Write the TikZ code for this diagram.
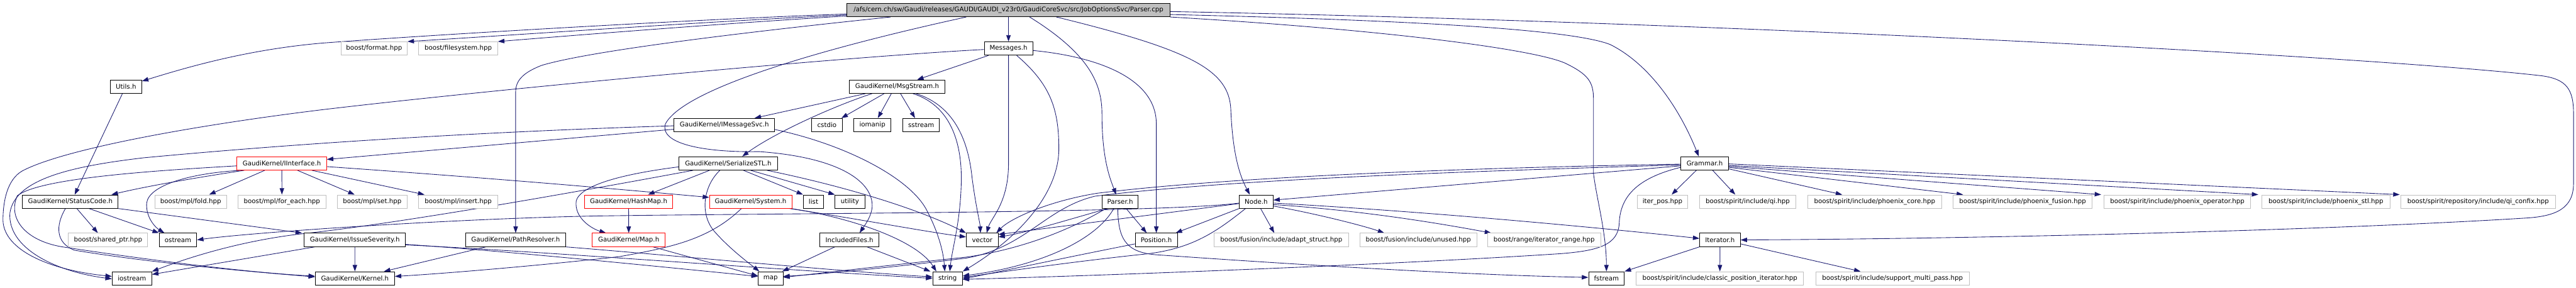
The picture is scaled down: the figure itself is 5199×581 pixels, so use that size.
\documentclass[tikz,border=0pt]{standalone}
\usepackage{fontspec}
\setmainfont{DejaVu Sans}
\usetikzlibrary{arrows.meta}
\definecolor{edgeblue}{HTML}{191970}
\definecolor{rootgray}{HTML}{BFBFBF}
\definecolor{extgray}{HTML}{BFBFBF}
\definecolor{redline}{HTML}{FF0000}
\pgfdeclarelayer{back}
\pgfdeclarelayer{bg}
\pgfsetlayers{back,bg,main}
\begin{document}
\begin{tikzpicture}[x=1pt,y=-1pt,
  box/.style={draw=black, line width=1.1pt, rectangle, minimum height=27pt, inner sep=0pt, fill=white, text=black, font=\fontsize{13pt}{15pt}\selectfont},
  rootbox/.style={box, fill=rootgray},
  redbox/.style={box, draw=redline},
  extbox/.style={box, draw=extgray},
  edge/.style={draw=edgeblue, line width=1.1pt, -{Triangle[length=13pt,width=9pt]}}]
\begin{pgfonlayer}{back}
\fill[white] (0,0) rectangle (5199,581);
\end{pgfonlayer}
\useasboundingbox (0,0) rectangle (5199,581);

% row 0
\node[rootbox,minimum width=651.6pt] (root) at (2035.4,20.3) {/afs/cern.ch/sw/Gaudi/releases/GAUDI/GAUDI\_v23r0/GaudiCoreSvc/src/JobOptionsSvc/Parser.cpp};
% row 1
\node[extbox,minimum width=133.9pt] (format) at (755.05,97.9) {boost/format.hpp};
\node[extbox,minimum width=159.2pt] (filesystem) at (924.8,97.9) {boost/filesystem.hpp};
\node[box,minimum width=97.8pt] (messages) at (2035.4,97.9) {Messages.h};
% row 2
\node[box,minimum width=63.4pt] (utils) at (254.3,174.9) {Utils.h};
\node[box,minimum width=192pt] (msgstream) at (1810.5,174.9) {GaudiKernel/MsgStream.h};
% row 3
\node[box,minimum width=202.7pt] (imsgsvc) at (1461.85,252.4) {GaudiKernel/IMessageSvc.h};
\node[box,minimum width=61.3pt] (cstdio) at (1668.95,252.4) {cstdio};
\node[box,minimum width=75.1pt] (iomanip) at (1760.75,252.4) {iomanip};
\node[box,minimum width=73.8pt] (sstream) at (1859.2,252.4) {sstream};
% row 4
\node[redbox,minimum width=180.7pt] (iinterface) at (568.75,329.8) {GaudiKernel/IInterface.h};
\node[box,minimum width=198.5pt] (serialize) at (1469.75,329.8) {GaudiKernel/SerializeSTL.h};
\node[box,minimum width=95.8pt] (grammar) at (3440.5,329.8) {Grammar.h};
% row 5
\node[box,minimum width=192.8pt] (statuscode) at (142,406.9) {GaudiKernel/StatusCode.h};
\node[extbox,minimum width=144.6pt] (fold) at (384.9,406.9) {boost/mpl/fold.hpp};
\node[extbox,minimum width=177pt] (foreach) at (569,406.9) {boost/mpl/for\_each.hpp};
\node[extbox,minimum width=141.7pt] (mplset) at (751.15,406.9) {boost/mpl/set.hpp};
\node[extbox,minimum width=159.2pt] (mplinsert) at (924.8,406.9) {boost/mpl/insert.hpp};
\node[redbox,minimum width=178.6pt] (hashmap) at (1268.7,406.9) {GaudiKernel/HashMap.h};
\node[redbox,minimum width=166.3pt] (system) at (1514.95,406.9) {GaudiKernel/System.h};
\node[box,minimum width=41pt] (list) at (1641.8,406.9) {list};
\node[box,minimum width=59.7pt] (utility) at (1715.35,406.9) {utility};
\node[box,minimum width=72.6pt] (parserh) at (2260.7,406.9) {Parser.h};
\node[box,minimum width=68pt] (nodeh) at (2535.3,406.9) {Node.h};
\node[extbox,minimum width=102pt] (iterpos) at (3355.3,406.9) {iter\_pos.hpp};
\node[extbox,minimum width=194pt] (qi) at (3527.3,406.9) {boost/spirit/include/qi.hpp};
\node[extbox,minimum width=270.3pt] (phcore) at (3783.55,406.9) {boost/spirit/include/phoenix\_core.hpp};
\node[extbox,minimum width=281pt] (phfusion) at (4082,406.9) {boost/spirit/include/phoenix\_fusion.hpp};
\node[extbox,minimum width=296.4pt] (phop) at (4394.3,406.9) {boost/spirit/include/phoenix\_operator.hpp};
\node[extbox,minimum width=257.9pt] (phstl) at (4694.25,406.9) {boost/spirit/include/phoenix\_stl.hpp};
\node[extbox,minimum width=311.7pt] (confix) at (5001.45,406.9) {boost/spirit/repository/include/qi\_confix.hpp};
% row 6
\node[extbox,minimum width=160.1pt] (sharedptr) at (218.05,484.3) {boost/shared\_ptr.hpp};
\node[box,minimum width=75.8pt] (ostream) at (359.2,484.3) {ostream};
\node[box,minimum width=204.4pt] (issue) at (716.1,484.3) {GaudiKernel/IssueSeverity.h};
\node[box,minimum width=201pt] (pathres) at (1040.7,484.3) {GaudiKernel/PathResolver.h};
\node[redbox,minimum width=146.8pt] (maph) at (1268.9,484.3) {GaudiKernel/Map.h};
\node[box,minimum width=119.8pt] (included) at (1714.3,484.3) {IncludedFiles.h};
\node[box,minimum width=64pt] (vector) at (1982.3,484.3) {vector};
\node[box,minimum width=85pt] (position) at (2333.7,484.3) {Position.h};
\node[extbox,minimum width=271.2pt] (adapt) at (2585.9,484.3) {boost/fusion/include/adapt\_struct.hpp};
\node[extbox,minimum width=236.2pt] (unused) at (2862.4,484.3) {boost/fusion/include/unused.hpp};
\node[extbox,minimum width=228.4pt] (irange) at (3116.3,484.3) {boost/range/iterator\_range.hpp};
\node[box,minimum width=82.1pt] (iterator) at (3471.35,484.3) {Iterator.h};
% row 7
\node[box,minimum width=80pt] (iostream) at (266.3,561.9) {iostream};
\node[box,minimum width=160pt] (kernel) at (716.3,561.9) {GaudiKernel/Kernel.h};
\node[box,minimum width=50.1pt] (map) at (1555.15,561.9) {map};
\node[box,minimum width=60.1pt] (string) at (1912.45,561.9) {string};
\node[box,minimum width=72.1pt] (fstream) at (3242.15,561.9) {fstream};
\node[extbox,minimum width=337.9pt] (classic) at (3471.15,561.9) {boost/spirit/include/classic\_position\_iterator.hpp};
\node[extbox,minimum width=310.1pt] (multipass) at (3819.55,561.9) {boost/spirit/include/support\_multi\_pass.hpp};

\begin{pgfonlayer}{bg}
% ---- root
\draw[edge] ([yshift=-8pt]root.west) .. controls (1450,37) and (900,68) .. (650,87) .. controls (500,100) and (380,135) .. ([yshift=-3pt]utils.north east);
\draw[edge] ([yshift=-10pt]root.west) .. controls (1450,42) and (1050,70) .. (format.north east);
\draw[edge] ([yshift=-12pt]root.west) .. controls (1450,48) and (1150,72) .. (filesystem.north east);
\draw[edge] ([xshift=88pt]root.south west) .. controls (1550,60) and (1200,100) .. (1093,132) .. controls (1060,145) and (1040.7,160) .. (1040.7,185) -- (pathres.north);
\draw[edge] (root.south) -- (messages.north);
\draw[edge] ([xshift=241pt]root.south west) .. controls (1650,100) and (1380,180) .. (1343,250) .. controls (1330,290) and (1420,308) .. (1532,306) .. controls (1700,318) and (1765,370) .. (1760,420) .. controls (1757,440) and (1745,455) .. ([xshift=81pt]included.north west);
\draw[edge] ([xshift=369pt]root.south west) .. controls (2200,110) and (2224,170) .. (2224,230) .. controls (2224,320) and (2240,360) .. ([xshift=-8pt]parserh.north);
\draw[edge] ([xshift=423pt]root.south west) .. controls (2400,100) and (2480,140) .. (2484,220) .. controls (2488,320) and (2505,360) .. ([xshift=-13pt]nodeh.north);
\draw[edge] ([yshift=-9pt]root.east) .. controls (2900,42) and (3180,62) .. (3250,90) .. controls (3330,130) and (3390,220) .. ([xshift=-12pt]grammar.north);
\draw[edge] ([yshift=-3pt]root.east) .. controls (3500,45) and (4800,115) .. (5130,153) .. controls (5180,160) and (5194,180) .. (5194,230) -- (5194,370) .. controls (5194,420) and (5160,436) .. (5100,440) .. controls (4700,465) and (4000,482) .. (iterator.east);
\draw[edge] (root.south east) .. controls (2800,60) and (3100,100) .. (3160,128) .. controls (3205,150) and (3216,165) .. (3216,200) -- (3216,350) .. controls (3222,400) and (3242,470) .. (fstream.north);
% ---- Messages.h
\draw[edge] ([yshift=-2pt]messages.west) .. controls (1700,115) and (1000,180) .. (650,221.5) .. controls (400,252) and (130,300) .. (45,345) .. controls (15,362) and (6,405) .. (6,445) .. controls (8,505) and (100,545) .. ([yshift=4pt]iostream.west);
\draw[edge] ([xshift=9pt]messages.south west) -- ([xshift=137pt]msgstream.north west);
\draw[edge] (messages.south) -- (2035.4,330) .. controls (2035.4,410) and (2000,440) .. ([xshift=9pt]vector.north);
\draw[edge] ([xshift=66pt]messages.south west) .. controls (2120,170) and (2137,220) .. (2137,300) .. controls (2137,400) and (2040,490) .. (string.north east);
\draw[edge] ([yshift=-4pt]messages.east) .. controls (2220,115) and (2333.7,160) .. (2333.7,250) -- (position.north);
% ---- MsgStream.h
\draw[edge] ([xshift=33pt]msgstream.south west) -- ([xshift=163pt]imsgsvc.north west);
\draw[edge] ([xshift=46pt]msgstream.south west) .. controls (1680,215) and (1560,270) .. ([xshift=128pt]serialize.north west);
\draw[edge] ([xshift=70.5pt]msgstream.south west) -- ([xshift=-2pt]cstdio.north east);
\draw[edge] ([xshift=85pt]msgstream.south west) -- ([xshift=49pt]iomanip.north west);
\draw[edge] ([xshift=103.5pt]msgstream.south west) -- ([xshift=25pt]sstream.north west);
\draw[edge] ([xshift=128.5pt]msgstream.south west) .. controls (1925,215) and (1942,300) .. (1940,370) .. controls (1938,450) and (1922,500) .. ([xshift=35pt]string.north west);
\draw[edge] ([xshift=135pt]msgstream.south west) .. controls (1930,215) and (1955,290) .. (1962,360) .. controls (1970,420) and (1978,450) .. ([xshift=29pt]vector.north west);
% ---- IMessageSvc.h
\draw[edge] ([yshift=-8.5pt]imsgsvc.west) -- ([yshift=8pt]iinterface.east);
\draw[edge] ([yshift=-1.5pt]imsgsvc.west) .. controls (1100,262) and (700,280) .. (290,318.5) .. controls (150,335) and (30,360) .. (20,430) .. controls (15,500) and (110,548) .. ([yshift=-1pt]iostream.west);
\draw[edge] ([yshift=-9pt]imsgsvc.east) .. controls (1700,290) and (1830,355) .. (1868,420) .. controls (1895,470) and (1904,510) .. ([xshift=25pt]string.north west);
% ---- IInterface.h
\draw[edge] ([yshift=-5pt]iinterface.west) .. controls (300,345) and (80,360) .. (35,395) .. controls (15,440) and (50,485) .. (124,498) .. controls (300,525) and (500,550) .. ([yshift=4.5pt]kernel.west);
\draw[edge] ([xshift=15pt]iinterface.south west) .. controls (400,358) and (300,375) .. ([xshift=-14pt]statuscode.north east);
\draw[edge] ([xshift=8pt]iinterface.south west) .. controls (380,350) and (300,375) .. (296,410) .. controls (294,440) and (315,460) .. ([xshift=11pt]ostream.north west);
\draw[edge] ([xshift=56.5pt]iinterface.south west) -- ([xshift=110pt]fold.north west);
\draw[edge] (iinterface.south) -- (foreach.north);
\draw[edge] ([xshift=122.5pt]iinterface.south west) -- ([xshift=36pt]mplset.north west);
\draw[edge] ([xshift=151.5pt]iinterface.south west) -- ([xshift=12pt]mplinsert.north west);
\draw[edge] ([yshift=-6.5pt]iinterface.east) .. controls (1000,360) and (1250,382) .. ([yshift=8.5pt]system.west);
% ---- SerializeSTL.h
\draw[edge] ([xshift=62pt]serialize.south west) -- ([xshift=129pt]hashmap.north west);
\draw[edge] ([xshift=83pt]serialize.south west) .. controls (1420,375) and (1412,430) .. (1440,465) .. controls (1470,500) and (1510,530) .. ([xshift=3pt]map.north west);
\draw[edge] ([xshift=130.5pt]serialize.south west) -- (list.north west);
\draw[edge] ([xshift=145pt]serialize.south west) -- (utility.north west);
\draw[edge] ([xshift=178pt]serialize.south west) .. controls (1700,375) and (1850,420) .. (vector.north west);
\draw[edge] ([yshift=-7pt]serialize.west) .. controls (1250,352) and (1172,375) .. (1163,405) .. controls (1158,440) and (1195,462) .. ([xshift=28pt]maph.north west);
\draw[edge] ([xshift=29pt]serialize.south west) .. controls (1150,390) and (800,452) .. (600,473) .. controls (480,488) and (380,520) .. (iostream.north east);
% ---- HashMap.h, Map.h
\draw[edge] (hashmap.south) -- (maph.north);
\draw[edge] ([xshift=-25pt]maph.south east) -- ([yshift=5pt]map.west);
% ---- System.h
\draw[edge] ([xshift=65pt]system.south west) .. controls (1430,485) and (1350,500) .. (1250,518) .. controls (1100,535) and (900,552) .. ([yshift=4pt]kernel.east);
\draw[edge] ([xshift=-5pt]system.south east) .. controls (1750,445) and (1870,468) .. ([yshift=6pt]vector.west);
\draw[edge] ([xshift=-2pt]system.south east) .. controls (1720,440) and (1850,485) .. ([xshift=8pt]string.north west);
% ---- IssueSeverity.h
\draw[edge] (issue.south) -- (kernel.north);
\draw[edge] ([xshift=22pt]issue.south west) -- ([yshift=8pt]iostream.east);
\draw[edge] ([yshift=-9pt]issue.east) .. controls (1000,505) and (1300,535) .. ([yshift=4pt]map.west);
\draw[edge] ([yshift=-10pt]issue.east) .. controls (1100,508) and (1500,540) .. (string.west);
% ---- PathResolver.h
\draw[edge] ([xshift=41pt]pathres.south west) -- ([xshift=-22pt]kernel.north east);
\draw[edge] (pathres.south east) .. controls (1350,515) and (1700,548) .. ([yshift=3pt]string.west);
% ---- Utils.h, StatusCode.h
\draw[edge] ([xshift=25pt]utils.south west) -- ([xshift=105.7pt]statuscode.north west);
\draw[edge] ([xshift=110pt]statuscode.south west) -- ([xshift=60pt]sharedptr.north west);
\draw[edge] ([xshift=134.7pt]statuscode.south west) -- (ostream.north west);
\draw[edge] (statuscode.south east) -- ([xshift=-4pt]issue.north west);
\draw[edge] ([xshift=87pt]statuscode.south west) .. controls (112,455) and (112,490) .. (150,505) .. controls (300,530) and (500,548) .. ([yshift=3pt]kernel.west);
% ---- IncludedFiles.h
\draw[edge] ([xshift=31pt]included.south west) -- ([xshift=-2pt]map.north east);
\draw[edge] ([xshift=96pt]included.south west) -- ([xshift=-4pt]string.north west);
% ---- Parser.h
\draw[edge] ([xshift=12pt]parserh.south west) .. controls (2150,445) and (2070,470) .. ([yshift=6pt]vector.east);
\draw[edge] ([xshift=8pt]parserh.south west) .. controls (2150,470) and (2050,505) .. (1950,519) .. controls (1800,535) and (1650,552) .. ([yshift=2pt]map.east);
\draw[edge] ([xshift=24pt]parserh.south west) .. controls (2215,480) and (2110,535) .. ([yshift=5pt]string.east);
\draw[edge] ([xshift=49pt]parserh.south west) -- ([xshift=23.6pt]position.north west);
\draw[edge] ([xshift=32pt]parserh.south west) .. controls (2257,480) and (2270,508) .. (2330,514) .. controls (2700,540) and (3000,556) .. ([yshift=2pt]fstream.west);
% ---- Position.h
\draw[edge] ([yshift=-8pt]position.west) .. controls (2150,520) and (2000,552) .. ([yshift=-1pt]string.east);
% ---- Node.h
\draw[edge] ([yshift=-4pt]nodeh.west) -- ([yshift=11pt]vector.east);
\draw[edge] ([yshift=-3pt]nodeh.west) .. controls (2350,430) and (1600,430) .. (1200,436) .. controls (900,442) and (500,470) .. (ostream.east);
\draw[edge] (nodeh.south west) -- ([xshift=-4pt]position.north east);
\draw[edge] ([xshift=13pt]nodeh.south west) .. controls (2450,472) and (2400,505) .. (2300,514) .. controls (2150,530) and (2000,552) .. ([yshift=2pt]string.east);
\draw[edge] ([xshift=43.5pt]nodeh.south west) -- ([xshift=122pt]adapt.north west);
\draw[edge] ([yshift=-9pt]nodeh.east) .. controls (2650,430) and (2750,455) .. ([xshift=50pt]unused.north west);
\draw[edge] ([yshift=-6pt]nodeh.east) .. controls (2750,425) and (2900,450) .. ([xshift=8pt]irange.north west);
\draw[edge] ([yshift=-3pt]nodeh.east) .. controls (2900,428) and (3250,462) .. ([yshift=3pt]iterator.west);
% ---- Grammar.h
\draw[edge] ([yshift=-5pt]grammar.west) -- ([yshift=3pt]nodeh.east);
\draw[edge] ([yshift=-1.5pt]grammar.west) .. controls (3000,338) and (2500,355) .. (2215,390) .. controls (2120,405) and (2040,440) .. ([xshift=-4pt]vector.north east);
\draw[edge] ([yshift=-3pt]grammar.west) .. controls (3000,345) and (2500,360) .. (2210,396) .. controls (2110,420) and (2070,500) .. (1950,521) .. controls (1800,540) and (1650,554) .. ([yshift=4pt]map.east);
\draw[edge] ([yshift=-8pt]grammar.west) .. controls (3300,360) and (3270,400) .. (3268,450) .. controls (3266,495) and (3225,506) .. (3150,512) .. controls (2800,535) and (2200,557) .. ([yshift=-2pt]string.east);
\draw[edge] ([xshift=31.5pt]grammar.south west) -- ([xshift=70pt]iterpos.north west);
\draw[edge] ([xshift=64.5pt]grammar.south west) -- ([xshift=72.5pt]qi.north west);
\draw[edge] ([yshift=3pt]grammar.south east) -- ([xshift=70pt]phcore.north west);
\draw[edge] ([yshift=-8pt]grammar.east) -- ([xshift=21pt]phfusion.north west);
\draw[edge] ([yshift=-6pt]grammar.east) -- ([xshift=-5pt]phop.north west);
\draw[edge] ([yshift=-4pt]grammar.east) -- ([xshift=-7pt]phstl.north west);
\draw[edge] ([yshift=-1pt]grammar.east) -- ([xshift=-2pt]confix.north west);
% ---- Iterator.h
\draw[edge] (iterator.south west) -- (fstream.north east);
\draw[edge] (iterator.south) -- (classic.north);
\draw[edge] ([yshift=-8pt]iterator.east) -- ([xshift=91pt]multipass.north west);
\end{pgfonlayer}
\end{tikzpicture}
\end{document}
